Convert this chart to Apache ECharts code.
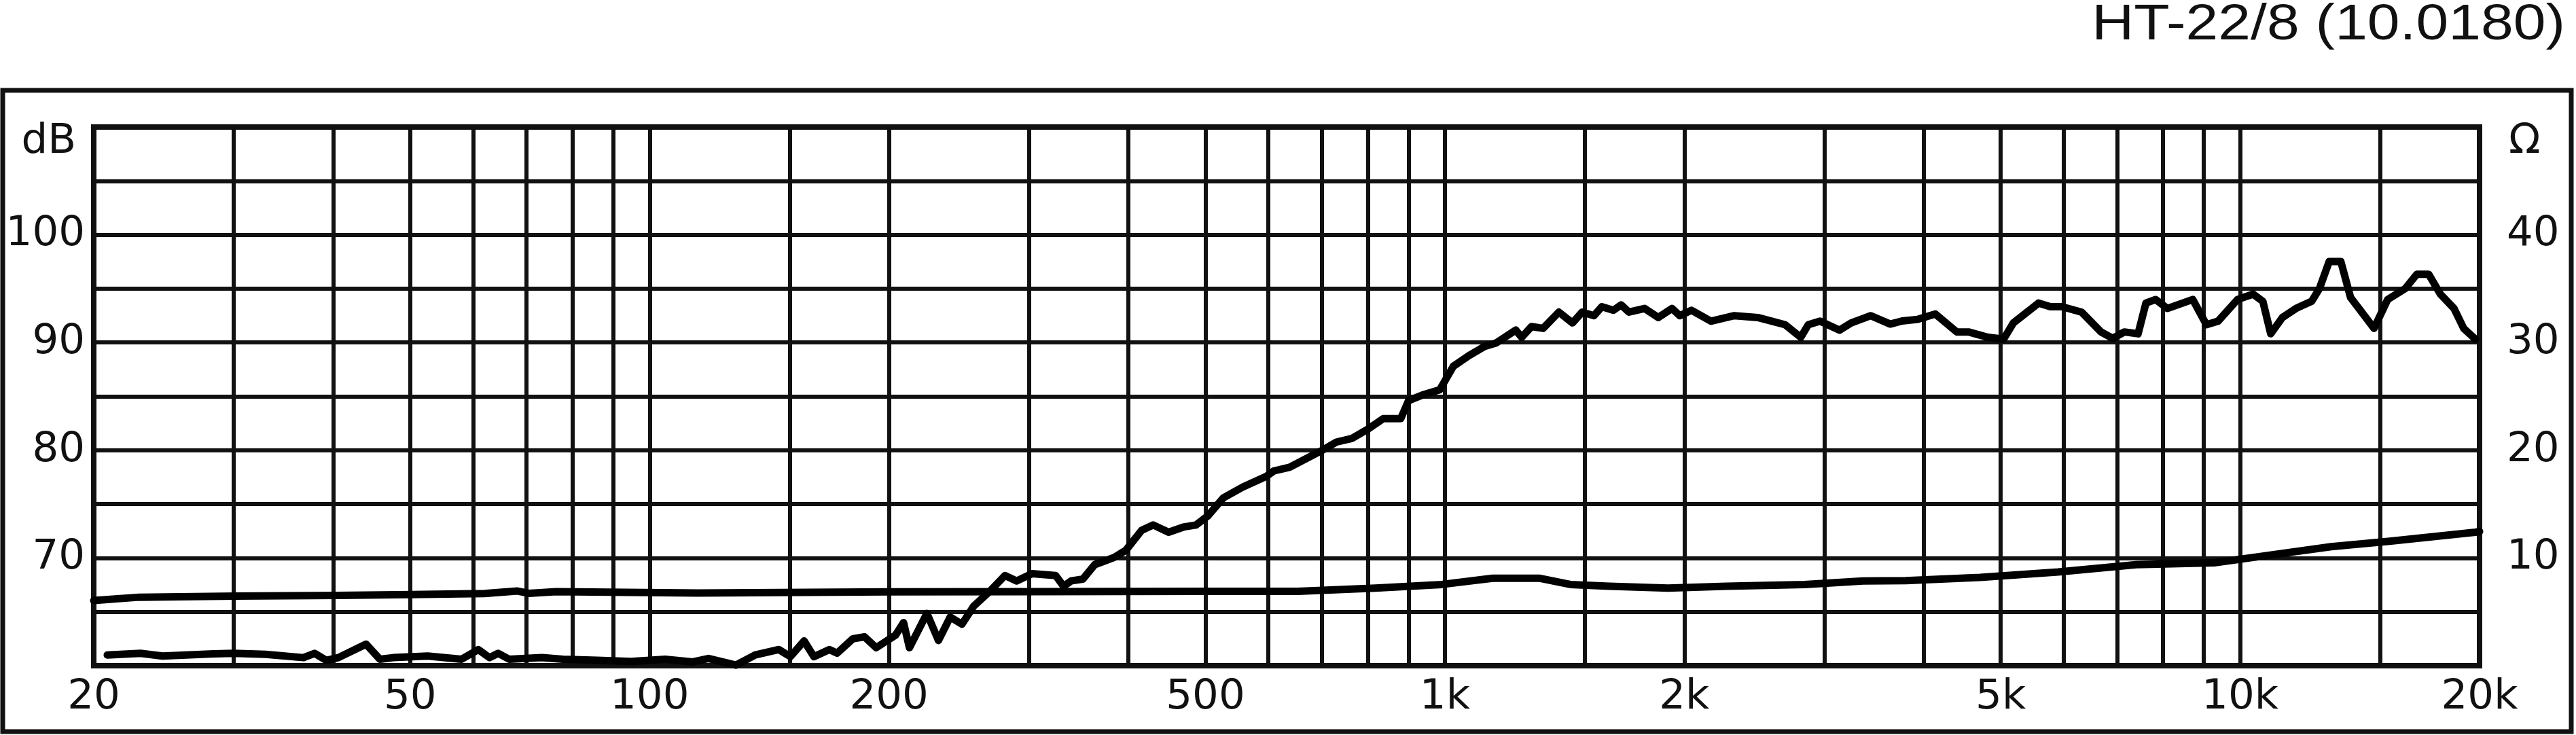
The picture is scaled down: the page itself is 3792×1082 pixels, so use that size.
<!DOCTYPE html>
<html>
<head>
<meta charset="utf-8">
<script src="https://cdn.jsdelivr.net/npm/echarts@6/dist/echarts.min.js"></script>
<style>
html,body{margin:0;padding:0;background:#fff;}
#chart{width:3792px;height:1082px;}
</style>
</head>
<body>
<div id="chart"></div>
<script>
// ---- data ----
const titleText = 'HT-22/8 (10.0180)';

const xGridValues = [20,30,40,50,60,70,80,90,100,150,200,300,400,500,600,700,800,900,1000,1500,2000,3000,4000,5000,6000,7000,8000,9000,10000,15000,20000];
const xLabelValues = [20,50,100,200,500,1000,2000,5000,10000,20000];
const xLabelTexts = ['20','50','100','200','500','1k','2k','5k','10k','20k'];

const dbLabelValues = [70,80,90,100];
const ohmLabelValues = [10,20,30,40];

const splFreq = [20.8,22.9,24.4,28.3,30,32.9,36.7,37.9,39.2,40.6,44.0,45.8,47.6,52.6,58.0,60.9,62.9,64.5,66.6,73.2,77.8,85.9,94.8,104.6,113.3,118.6,128.4,135.8,145.4,150.3,156.4,160.9,168.3,172.1,180.1,186.3,192.7,203.9,208.6,212.2,223.2,230.8,238.8,247,255.6,267.5,279.8,289.4,302.7,324,331.5,338.9,350.6,362.8,383.8,397.1,415.5,429.8,449.4,470.2,486.4,503.3,526.4,557,596.3,609.5,637.8,698.4,730.6,764.4,799.6,836.6,880.2,900.4,936.8,985.4,1025,1073,1122,1161,1228,1249,1285,1329,1391,1447,1488,1540,1575,1629,1666,1704,1783,1855,1930,1974,2042,2160,2312,2474,2678,2802,2864,2963,3135,3243,3432,3631,3758,3933,4137,4402,4554,4818,5042,5186,5580,5772,5970,6318,6684,6915,7153,7442,7613,7830,8100,8718,9070,9382,9926,10382,10680,10926,11302,11756,12300,12580,12940,13386,13770,14164,14736,15330,16126,16682,17260,17856,18576,19104,19762];
const splDb = [61.0,61.15,60.9,61.1,61.15,61.05,60.75,61.15,60.5,60.75,62.0,60.6,60.75,60.9,60.6,61.5,60.75,61.15,60.6,60.75,60.6,60.5,60.4,60.6,60.35,60.67,60.05,61.0,61.5,60.84,62.3,60.84,61.5,61.17,62.5,62.68,61.67,62.85,64.0,61.67,64.86,62.34,64.52,63.85,65.53,66.87,68.37,67.87,68.54,68.37,67.37,67.87,68.04,69.38,70.05,70.72,72.56,73.06,72.39,72.89,73.06,73.9,75.57,76.58,77.58,78.08,78.42,79.93,80.76,81.1,81.94,82.94,82.94,84.62,85.12,85.62,87.8,88.8,89.64,89.97,91.15,90.48,91.48,91.31,92.82,91.82,92.82,92.49,93.32,92.99,93.49,92.82,93.16,92.32,93.16,92.49,92.99,91.98,92.49,92.32,91.65,90.48,91.65,91.98,91.15,91.82,92.49,91.71,92.0,92.15,92.65,90.98,90.98,90.48,90.31,91.82,93.66,93.32,93.32,92.82,90.98,90.38,90.98,90.81,93.66,93.99,93.16,93.99,91.65,91.98,93.99,94.49,93.82,90.81,92.32,93.16,93.82,95.0,97.51,97.51,94.16,92.99,91.31,93.99,95.0,96.34,96.34,94.49,93.16,91.31,90.31];

const impFreq = [20,22.8,30.2,40.6,50.2,62,68.2,70.5,76.3,115,200,300,500,653,818,991,1148,1314,1438,1610,1908,2260,2834,3356,3800,4709,5904,7398,9276,10382,13016,15416,19762,20000];
const impOhm = [6.05,6.36,6.46,6.53,6.6,6.7,6.93,6.72,6.87,6.75,6.85,6.87,6.9,6.9,7.2,7.54,8.12,8.12,7.54,7.37,7.2,7.37,7.54,7.87,7.9,8.2,8.7,9.38,9.55,10.05,11.05,11.55,12.39,12.45];

// ---- chart ----
const INK = '#111111';
const FONT = '"DejaVu Sans", Verdana, sans-serif';
const chart = echarts.init(document.getElementById('chart'), null, {renderer: 'canvas'});

function xFmt(v) {
  for (let i = 0; i < xLabelValues.length; i++) {
    if (Math.abs(v - xLabelValues[i]) / xLabelValues[i] < 1e-3) return xLabelTexts[i];
  }
  return '';
}
function listFmt(list) {
  return function (v) {
    for (let i = 0; i < list.length; i++) if (Math.abs(v - list[i]) < 1e-6) return String(list[i]);
    return '';
  };
}

chart.setOption({
  animation: false,
  backgroundColor: '#ffffff',
  graphic: [
    {
      type: 'rect', silent: true, z: 0,
      shape: {x: 4, y: 133, width: 3781, height: 944},
      style: {fill: 'none', stroke: INK, lineWidth: 7}
    },
    {
      type: 'text', silent: true, x: 3776, y: 38, scaleX: 1.16, scaleY: 1,
      style: {text: titleText, textAlign: 'right', textVerticalAlign: 'middle',
              fontFamily: '"Liberation Sans", Arial, sans-serif', fontSize: 74, fill: INK}
    }
  ],
  grid: {
    left: 138, right: 142, top: 187, bottom: 102,
    show: true, borderColor: INK, borderWidth: 8, backgroundColor: 'transparent',
    containLabel: false
  },
  xAxis: {
    type: 'log', logBase: 10, min: 20, max: 20000,
    axisLine: {show: false},
    axisTick: {show: false, customValues: xGridValues},
    splitLine: {show: true, lineStyle: {color: INK, width: 6}},
    minorTick: {show: false},
    minorSplitLine: {show: false},
    axisLabel: {
      customValues: xLabelValues,
      formatter: xFmt,
      fontFamily: FONT, fontSize: 61, color: INK, margin: 17
    }
  },
  yAxis: [
    {
      type: 'value', min: 60, max: 110, interval: 5, position: 'left',
      name: 'dB', nameLocation: 'end', nameGap: -22,
      nameTextStyle: {fontFamily: FONT, fontSize: 61, color: INK, align: 'right', verticalAlign: 'middle', padding: [0, 26, 0, 0]},
      axisLine: {show: false}, axisTick: {show: false},
      splitLine: {show: true, lineStyle: {color: INK, width: 6}},
      axisLabel: {formatter: listFmt(dbLabelValues), fontFamily: FONT, fontSize: 61, color: INK, margin: 13}
    },
    {
      type: 'value', min: 0, max: 50, interval: 5, position: 'right',
      name: 'Ω', nameLocation: 'end', nameGap: -22,
      nameTextStyle: {fontFamily: FONT, fontSize: 61, color: INK, align: 'left', verticalAlign: 'middle', padding: [0, 0, 0, 43]},
      axisLine: {show: false}, axisTick: {show: false},
      splitLine: {show: false},
      axisLabel: {formatter: listFmt(ohmLabelValues), fontFamily: FONT, fontSize: 61, color: INK, margin: 40}
    }
  ],
  series: [
    {
      name: 'SPL', type: 'line', xAxisIndex: 0, yAxisIndex: 0,
      data: splFreq.map((f, i) => [f, splDb[i]]),
      showSymbol: false, symbol: 'none', silent: true,
      lineStyle: {color: '#000', width: 11, join: 'round', cap: 'round'},
      z: 5
    },
    {
      name: 'Impedance', type: 'line', xAxisIndex: 0, yAxisIndex: 1,
      data: impFreq.map((f, i) => [f, impOhm[i]]),
      showSymbol: false, symbol: 'none', silent: true,
      lineStyle: {color: '#000', width: 11, join: 'round', cap: 'round'},
      z: 5
    }
  ]
});
</script>
</body>
</html>
